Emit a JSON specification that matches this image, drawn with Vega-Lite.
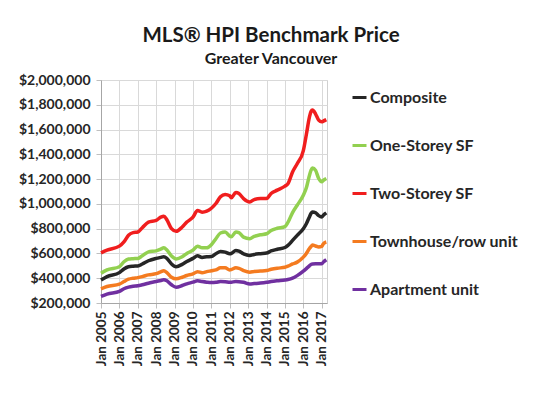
{
  "$schema": "https://vega.github.io/schema/vega-lite/v6.json",
  "autosize": {"type": "none"},
  "width": 226,
  "height": 223,
  "padding": {"left": 101, "top": 80, "right": 224, "bottom": 93},
  "background": "white",
  "title": {
    "text": "MLS® HPI Benchmark Price",
    "subtitle": "Greater Vancouver",
    "anchor": "middle",
    "frame": "group",
    "dx": 57,
    "font": "Lato",
    "fontSize": 20.5,
    "fontWeight": "bold",
    "color": "#1a1a1a",
    "subtitleFont": "Lato",
    "subtitleFontSize": 16,
    "subtitleFontWeight": "bold",
    "subtitleColor": "#1a1a1a",
    "offset": 6,
    "subtitlePadding": 5
  },
  "data": {
    "values": [
      {"date": "2005-01-01", "Composite": 385000, "One-Storey SF": 440000, "Two-Storey SF": 605000, "Townhouse/row unit": 315000, "Apartment unit": 253000},
      {"date": "2005-05-01", "Composite": 413000, "One-Storey SF": 467000, "Two-Storey SF": 627000, "Townhouse/row unit": 333000, "Apartment unit": 272000},
      {"date": "2006-01-01", "Composite": 445000, "One-Storey SF": 493000, "Two-Storey SF": 659000, "Townhouse/row unit": 352000, "Apartment unit": 293000},
      {"date": "2006-04-01", "Composite": 475000, "One-Storey SF": 533000, "Two-Storey SF": 693000, "Townhouse/row unit": 373000, "Apartment unit": 315000},
      {"date": "2006-07-01", "Composite": 493000, "One-Storey SF": 555000, "Two-Storey SF": 747000, "Townhouse/row unit": 392000, "Apartment unit": 328000},
      {"date": "2006-10-01", "Composite": 497000, "One-Storey SF": 558000, "Two-Storey SF": 768000, "Townhouse/row unit": 400000, "Apartment unit": 335000},
      {"date": "2007-01-01", "Composite": 499000, "One-Storey SF": 560000, "Two-Storey SF": 773000, "Townhouse/row unit": 405000, "Apartment unit": 339000},
      {"date": "2007-04-01", "Composite": 515000, "One-Storey SF": 581000, "Two-Storey SF": 808000, "Townhouse/row unit": 413000, "Apartment unit": 347000},
      {"date": "2007-08-01", "Composite": 541000, "One-Storey SF": 613000, "Two-Storey SF": 853000, "Townhouse/row unit": 427000, "Apartment unit": 360000},
      {"date": "2008-01-01", "Composite": 560000, "One-Storey SF": 621000, "Two-Storey SF": 867000, "Townhouse/row unit": 437000, "Apartment unit": 373000},
      {"date": "2008-04-01", "Composite": 568000, "One-Storey SF": 635000, "Two-Storey SF": 893000, "Townhouse/row unit": 452000, "Apartment unit": 382000},
      {"date": "2008-06-01", "Composite": 573000, "One-Storey SF": 645000, "Two-Storey SF": 901000, "Townhouse/row unit": 461000, "Apartment unit": 387000},
      {"date": "2008-08-01", "Composite": 560000, "One-Storey SF": 627000, "Two-Storey SF": 872000, "Townhouse/row unit": 445000, "Apartment unit": 379000},
      {"date": "2008-11-01", "Composite": 515000, "One-Storey SF": 579000, "Two-Storey SF": 800000, "Townhouse/row unit": 408000, "Apartment unit": 347000},
      {"date": "2009-02-01", "Composite": 493000, "One-Storey SF": 555000, "Two-Storey SF": 779000, "Townhouse/row unit": 395000, "Apartment unit": 328000},
      {"date": "2009-06-01", "Composite": 512000, "One-Storey SF": 573000, "Two-Storey SF": 813000, "Townhouse/row unit": 408000, "Apartment unit": 341000},
      {"date": "2009-09-01", "Composite": 535000, "One-Storey SF": 600000, "Two-Storey SF": 853000, "Townhouse/row unit": 422000, "Apartment unit": 355000},
      {"date": "2010-01-01", "Composite": 560000, "One-Storey SF": 627000, "Two-Storey SF": 893000, "Townhouse/row unit": 435000, "Apartment unit": 368000},
      {"date": "2010-04-01", "Composite": 581000, "One-Storey SF": 659000, "Two-Storey SF": 947000, "Townhouse/row unit": 453000, "Apartment unit": 379000},
      {"date": "2010-07-01", "Composite": 568000, "One-Storey SF": 645000, "Two-Storey SF": 933000, "Townhouse/row unit": 445000, "Apartment unit": 373000},
      {"date": "2010-10-01", "Composite": 573000, "One-Storey SF": 645000, "Two-Storey SF": 941000, "Townhouse/row unit": 453000, "Apartment unit": 368000},
      {"date": "2011-01-01", "Composite": 575000, "One-Storey SF": 670000, "Two-Storey SF": 965000, "Townhouse/row unit": 460000, "Apartment unit": 365000},
      {"date": "2011-04-01", "Composite": 597000, "One-Storey SF": 719000, "Two-Storey SF": 1003000, "Townhouse/row unit": 467000, "Apartment unit": 367000},
      {"date": "2011-07-01", "Composite": 616000, "One-Storey SF": 765000, "Two-Storey SF": 1057000, "Townhouse/row unit": 484000, "Apartment unit": 373000},
      {"date": "2011-10-01", "Composite": 611000, "One-Storey SF": 773000, "Two-Storey SF": 1076000, "Townhouse/row unit": 484000, "Apartment unit": 372000},
      {"date": "2012-01-01", "Composite": 597000, "One-Storey SF": 740000, "Two-Storey SF": 1065000, "Townhouse/row unit": 467000, "Apartment unit": 367000},
      {"date": "2012-02-01", "Composite": 600000, "One-Storey SF": 735000, "Two-Storey SF": 1050000, "Townhouse/row unit": 470000, "Apartment unit": 368000},
      {"date": "2012-05-01", "Composite": 624000, "One-Storey SF": 773000, "Two-Storey SF": 1092000, "Townhouse/row unit": 484000, "Apartment unit": 373000},
      {"date": "2012-07-01", "Composite": 619000, "One-Storey SF": 768000, "Two-Storey SF": 1084000, "Townhouse/row unit": 480000, "Apartment unit": 372000},
      {"date": "2012-10-01", "Composite": 597000, "One-Storey SF": 732000, "Two-Storey SF": 1043000, "Townhouse/row unit": 462000, "Apartment unit": 367000},
      {"date": "2013-02-01", "Composite": 584000, "One-Storey SF": 719000, "Two-Storey SF": 1016000, "Townhouse/row unit": 449000, "Apartment unit": 354000},
      {"date": "2013-05-01", "Composite": 592000, "One-Storey SF": 738000, "Two-Storey SF": 1035000, "Townhouse/row unit": 455000, "Apartment unit": 357000},
      {"date": "2013-09-01", "Composite": 598000, "One-Storey SF": 751000, "Two-Storey SF": 1043000, "Townhouse/row unit": 458000, "Apartment unit": 361000},
      {"date": "2014-01-01", "Composite": 603000, "One-Storey SF": 759000, "Two-Storey SF": 1043000, "Townhouse/row unit": 462000, "Apartment unit": 367000},
      {"date": "2014-04-01", "Composite": 620000, "One-Storey SF": 785000, "Two-Storey SF": 1084000, "Townhouse/row unit": 472000, "Apartment unit": 373000},
      {"date": "2014-08-01", "Composite": 634000, "One-Storey SF": 803000, "Two-Storey SF": 1111000, "Townhouse/row unit": 481000, "Apartment unit": 379000},
      {"date": "2015-01-01", "Composite": 648000, "One-Storey SF": 817000, "Two-Storey SF": 1143000, "Townhouse/row unit": 488000, "Apartment unit": 385000},
      {"date": "2015-03-01", "Composite": 665000, "One-Storey SF": 850000, "Two-Storey SF": 1162000, "Townhouse/row unit": 497000, "Apartment unit": 389000},
      {"date": "2015-06-01", "Composite": 705000, "One-Storey SF": 930000, "Two-Storey SF": 1257000, "Townhouse/row unit": 515000, "Apartment unit": 400000},
      {"date": "2015-09-01", "Composite": 746000, "One-Storey SF": 989000, "Two-Storey SF": 1324000, "Townhouse/row unit": 530000, "Apartment unit": 421000},
      {"date": "2016-01-01", "Composite": 800000, "One-Storey SF": 1070000, "Two-Storey SF": 1430000, "Townhouse/row unit": 570000, "Apartment unit": 457000},
      {"date": "2016-03-01", "Composite": 840000, "One-Storey SF": 1130000, "Two-Storey SF": 1560000, "Townhouse/row unit": 600000, "Apartment unit": 478000},
      {"date": "2016-05-01", "Composite": 895000, "One-Storey SF": 1230000, "Two-Storey SF": 1700000, "Townhouse/row unit": 640000, "Apartment unit": 500000},
      {"date": "2016-06-01", "Composite": 922000, "One-Storey SF": 1270000, "Two-Storey SF": 1745000, "Townhouse/row unit": 655000, "Apartment unit": 511000},
      {"date": "2016-07-01", "Composite": 935000, "One-Storey SF": 1290000, "Two-Storey SF": 1757000, "Townhouse/row unit": 668000, "Apartment unit": 515000},
      {"date": "2016-09-01", "Composite": 928000, "One-Storey SF": 1270000, "Two-Storey SF": 1725000, "Townhouse/row unit": 660000, "Apartment unit": 516000},
      {"date": "2016-11-01", "Composite": 905000, "One-Storey SF": 1205000, "Two-Storey SF": 1676000, "Townhouse/row unit": 652000, "Apartment unit": 516000},
      {"date": "2017-01-01", "Composite": 895000, "One-Storey SF": 1178000, "Two-Storey SF": 1662000, "Townhouse/row unit": 657000, "Apartment unit": 516000},
      {"date": "2017-02-01", "Composite": 908000, "One-Storey SF": 1190000, "Two-Storey SF": 1668000, "Townhouse/row unit": 678000, "Apartment unit": 530000},
      {"date": "2017-04-01", "Composite": 927000, "One-Storey SF": 1205000, "Two-Storey SF": 1680000, "Townhouse/row unit": 692000, "Apartment unit": 549000}
    ]
  },
  "transform": [
    {"fold": ["Composite", "One-Storey SF", "Two-Storey SF", "Townhouse/row unit", "Apartment unit"], "as": ["type", "price"]}
  ],
  "mark": {"type": "line", "interpolate": "monotone", "strokeWidth": 3.5},
  "encoding": {
    "x": {
      "field": "date",
      "type": "temporal",
      "scale": {"type": "utc", "domain": [{"year": 2005, "month": 1, "date": 1, "utc": true}, {"year": 2017, "month": 4, "date": 15, "utc": true}], "nice": false},
      "axis": {
        "title": null,
        "labelExpr": "'Jan ' + utcFormat(datum.value, '%Y')",
        "tickCount": {"interval": "year", "step": 1},
        "labelAngle": -90,
        "labelAlign": "right",
        "labelBaseline": "middle",
        "labelFont": "Lato",
        "labelFontWeight": "bold",
        "labelFontSize": 13.5,
        "labelColor": "#262626",
        "labelPadding": 3,
        "labelOverlap": false,
        "labelFlush": false,
        "labelLimit": 200,
        "tickSize": 5,
        "tickColor": "#bfbfbf",
        "domainColor": "#a6a6a6",
        "gridColor": "#d9d9d9"
      }
    },
    "y": {
      "field": "price",
      "type": "quantitative",
      "scale": {"domain": [200000, 2000000], "nice": false, "zero": false},
      "axis": {
        "title": null,
        "values": [200000, 400000, 600000, 800000, 1000000, 1200000, 1400000, 1600000, 1800000, 2000000],
        "format": "$,.0f",
        "labelFont": "Lato",
        "labelFontWeight": "bold",
        "labelFontSize": 14,
        "labelColor": "#262626",
        "labelPadding": 6,
        "tickSize": 5,
        "tickColor": "#bfbfbf",
        "domainColor": "#a6a6a6",
        "gridColor": "#d9d9d9"
      }
    },
    "color": {
      "field": "type",
      "type": "nominal",
      "scale": {
        "domain": ["Composite", "One-Storey SF", "Two-Storey SF", "Townhouse/row unit", "Apartment unit"],
        "range": ["#262626", "#92d050", "#f01e1e", "#f47b20", "#7030a0"]
      },
      "legend": {
        "title": null,
        "orient": "none",
        "legendX": 250,
        "legendY": 9,
        "direction": "vertical",
        "symbolType": "stroke",
        "symbolSize": 196,
        "symbolStrokeWidth": 3,
        "labelFont": "Lato",
        "labelFontSize": 16,
        "labelFontWeight": "bold",
        "labelColor": "#262626",
        "labelOffset": 2,
        "labelLimit": 300,
        "rowPadding": 31,
        "padding": 0
      }
    }
  },
  "config": {
    "view": {"stroke": "#d0d0d0"}
  }
}
